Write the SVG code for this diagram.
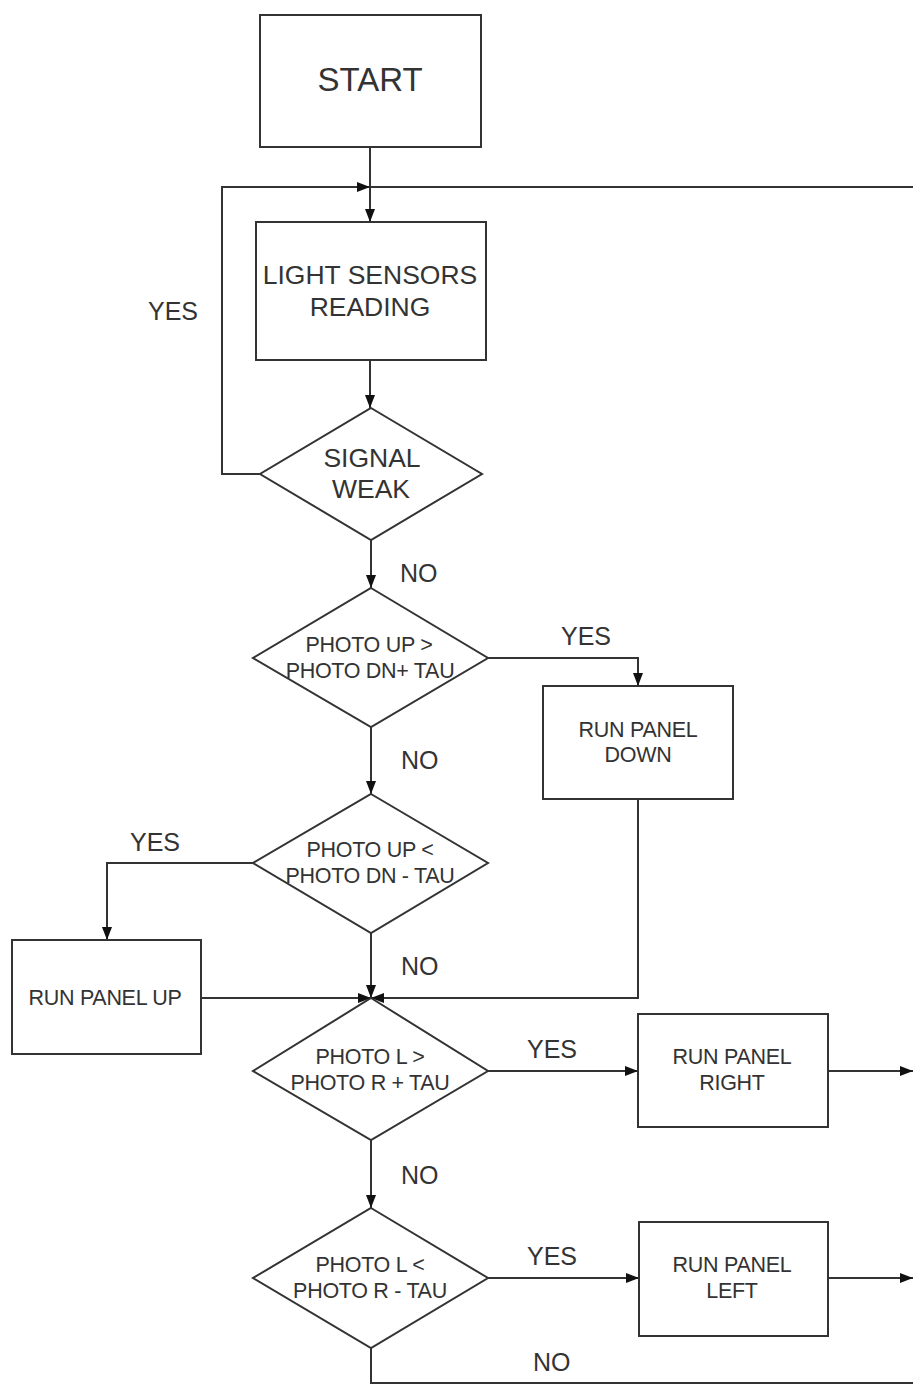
<svg xmlns="http://www.w3.org/2000/svg" width="913" height="1385" viewBox="0 0 913 1385">
<style>
.n{fill:#fff;stroke:#333;stroke-width:2}
.c{fill:none;stroke:#333;stroke-width:2}
.a{marker-end:url(#ah)}
text{font-family:"Liberation Sans",Arial,sans-serif;fill:#333;text-anchor:middle}
.big{font-size:33px}
.md{font-size:26.5px}
.sm{font-size:21.5px;letter-spacing:-0.3px}
.lb{font-size:25px;text-anchor:start}
</style>
<defs>
<marker id="ah" markerUnits="userSpaceOnUse" markerWidth="13" markerHeight="13" viewBox="0 0 13 13" refX="13" refY="6.5" orient="auto">
<path d="M0,1.5 L13,6.5 L0,11.5 Z" fill="#111"/>
</marker>
</defs>
<rect width="913" height="1385" fill="#fff"/>
<g id="connectors">
<path class="c a" d="M370,147 V222"/>
<path class="c a" d="M260,474 H222 V187 H370"/>
<path class="c" d="M370,187 H913"/>
<path class="c a" d="M370,360 V408"/>
<path class="c a" d="M371,540 V588"/>
<path class="c a" d="M488,658 H638 V686"/>
<path class="c a" d="M371,727 V794"/>
<path class="c a" d="M253,863 H107 V940"/>
<path class="c a" d="M638,799 V998 H371"/>
<path class="c a" d="M201,998 H371"/>
<path class="c a" d="M371,933 V998"/>
<path class="c a" d="M488,1071 H638"/>
<path class="c a" d="M828,1071 H913"/>
<path class="c a" d="M371,1140 V1208"/>
<path class="c a" d="M488,1278 H639"/>
<path class="c a" d="M828,1278 H913"/>
<path class="c" d="M371,1348 V1383 H913"/>
</g>
<g id="labels">
<text class="lb" x="148" y="320">YES</text>
<text class="lb" x="400" y="582">NO</text>
<text class="lb" x="561" y="645">YES</text>
<text class="lb" x="401" y="769">NO</text>
<text class="lb" x="130" y="851">YES</text>
<text class="lb" x="401" y="975">NO</text>
<text class="lb" x="527" y="1058">YES</text>
<text class="lb" x="401" y="1184">NO</text>
<text class="lb" x="527" y="1265">YES</text>
<text class="lb" x="533" y="1371">NO</text>
</g>
<g id="start">
<rect class="n" x="260" y="15" width="221" height="132"/>
<text class="big" x="370" y="91">START</text>
</g>
<g id="light-sensors">
<rect class="n" x="256" y="222" width="230" height="138"/>
<text class="md" x="370" y="284">LIGHT SENSORS</text>
<text class="md" x="370" y="316">READING</text>
</g>
<g id="signal-weak">
<polygon class="n" points="371,408 482,474 371,540 260,474"/>
<text class="md" x="372" y="467">SIGNAL</text>
<text class="md" x="371" y="498">WEAK</text>
</g>
<g id="photo-up-gt">
<polygon class="n" points="371,588 488,658 371,727 253,658"/>
<text class="sm" x="369" y="652">PHOTO UP &gt;</text>
<text class="sm" x="370" y="678">PHOTO DN+ TAU</text>
</g>
<g id="run-panel-down">
<rect class="n" x="543" y="686" width="190" height="113"/>
<text class="sm" x="638" y="737">RUN PANEL</text>
<text class="sm" x="638" y="762">DOWN</text>
</g>
<g id="photo-up-lt">
<polygon class="n" points="371,794 488,863 371,933 253,863"/>
<text class="sm" x="370" y="857">PHOTO UP &lt;</text>
<text class="sm" x="370" y="883">PHOTO DN - TAU</text>
</g>
<g id="run-panel-up">
<rect class="n" x="12" y="940" width="189" height="114"/>
<text class="sm" x="105" y="1005">RUN PANEL UP</text>
</g>
<g id="photo-l-gt">
<polygon class="n" points="371,998 488,1071 371,1140 253,1071"/>
<text class="sm" x="370" y="1064">PHOTO L &gt;</text>
<text class="sm" x="370" y="1090">PHOTO R + TAU</text>
</g>
<g id="run-panel-right">
<rect class="n" x="638" y="1014" width="190" height="113"/>
<text class="sm" x="732" y="1064">RUN PANEL</text>
<text class="sm" x="732" y="1090">RIGHT</text>
</g>
<g id="photo-l-lt">
<polygon class="n" points="371,1208 488,1278 371,1348 253,1278"/>
<text class="sm" x="370" y="1272">PHOTO L &lt;</text>
<text class="sm" x="370" y="1298">PHOTO R - TAU</text>
</g>
<g id="run-panel-left">
<rect class="n" x="639" y="1222" width="189" height="114"/>
<text class="sm" x="732" y="1272">RUN PANEL</text>
<text class="sm" x="732" y="1298">LEFT</text>
</g>
</svg>
